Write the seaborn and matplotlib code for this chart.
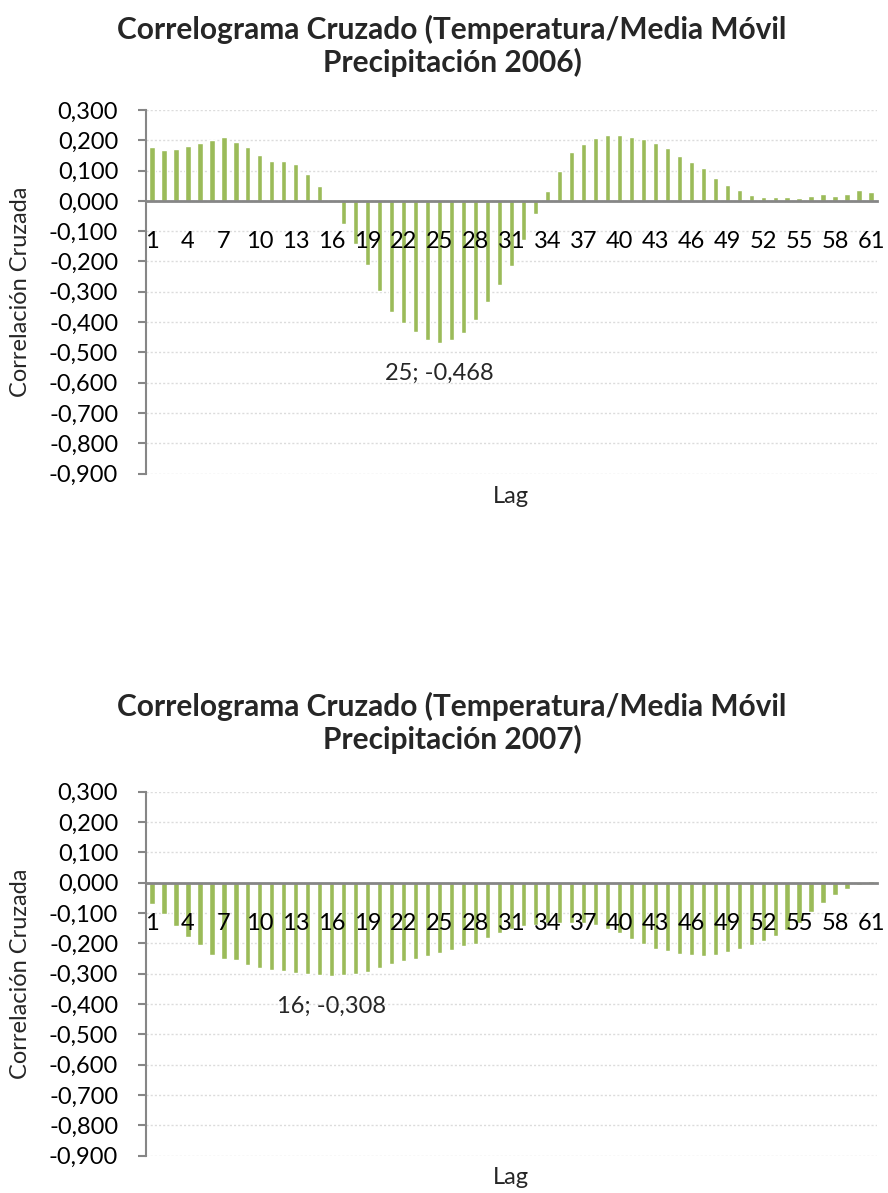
import matplotlib
matplotlib.use("Agg")
import matplotlib.pyplot as plt
import seaborn as sns
import numpy as np
import pandas as pd
from matplotlib.ticker import FuncFormatter

lags = list(range(1, 62))

corr_2006 = [0.177, 0.167, 0.170, 0.180, 0.190, 0.200, 0.210, 0.193, 0.177, 0.153,
             0.133, 0.130, 0.123, 0.090, 0.050, 0.000, -0.076, -0.142, -0.212, -0.299,
             -0.366, -0.402, -0.432, -0.460, -0.468, -0.460, -0.437, -0.394, -0.334, -0.277,
             -0.214, -0.128, -0.042, 0.033, 0.100, 0.160, 0.187, 0.207, 0.217, 0.217,
             0.210, 0.203, 0.190, 0.173, 0.147, 0.127, 0.107, 0.077, 0.053, 0.037,
             0.020, 0.013, 0.013, 0.013, 0.010, 0.017, 0.023, 0.017, 0.023, 0.037,
             0.030]

corr_2007 = [-0.071, -0.104, -0.142, -0.178, -0.204, -0.237, -0.251, -0.254, -0.270, -0.280,
             -0.287, -0.290, -0.297, -0.300, -0.303, -0.308, -0.303, -0.300, -0.293, -0.280,
             -0.268, -0.257, -0.251, -0.240, -0.231, -0.221, -0.208, -0.201, -0.181, -0.165,
             -0.152, -0.142, -0.138, -0.132, -0.132, -0.132, -0.132, -0.138, -0.152, -0.165,
             -0.184, -0.201, -0.218, -0.224, -0.234, -0.237, -0.241, -0.237, -0.227, -0.218,
             -0.204, -0.191, -0.175, -0.155, -0.132, -0.096, -0.066, -0.040, -0.020, -0.007,
             0.004]

titles = ["Correlograma Cruzado (Temperatura/Media Móvil\nPrecipitación 2006)",
          "Correlograma Cruzado (Temperatura/Media Móvil\nPrecipitación 2007)"]
y_ticks = [0.3, 0.2, 0.1, 0.0, -0.1, -0.2, -0.3, -0.4, -0.5, -0.6, -0.7, -0.8, -0.9]
x_tick_lags = list(range(1, 62, 3))
min_labels = [(25, -0.468), (16, -0.308)]

sns.set_theme(style="white")
plt.rcParams['font.family'] = ['Lato', 'DejaVu Sans']

BAR = "#9BBB59"
AX_GRAY = "#868686"
FS = 17

fig = plt.figure(figsize=(8.88, 11.93), dpi=100)

axes_rects = [[146/888, 1 - 473.5/1193, 731/888, 363.5/1193],
              [146/888, 1 - 1155.7/1193, 731/888, 364/1193]]
title_y = [46/1193, 723/1193]
lag_y = [497/1193, 1177/1193]

def fmt(v, pos=None):
    s = f"{v:.3f}".replace(".", ",")
    if s == "-0,000":
        s = "0,000"
    return s

for i, (vals, title, rect) in enumerate(zip([corr_2006, corr_2007], titles, axes_rects)):
    ax = fig.add_axes(rect)
    df = pd.DataFrame({"Lag": lags, "Corr": vals})
    sns.barplot(data=df, x="Lag", y="Corr", color=BAR, saturation=1, width=0.44,
                ax=ax, zorder=3)
    ax.set_xlim(-0.5, 60.5)
    ax.set_ylim(-0.9, 0.3)
    ax.set_yticks(y_ticks)
    ax.yaxis.set_major_formatter(FuncFormatter(fmt))
    ax.grid(axis="y", color="#dcdcdc", linestyle=(0, (1.5, 1.5)), linewidth=1)
    for s in ["top", "right"]:
        ax.spines[s].set_visible(False)
    ax.spines["left"].set_color(AX_GRAY)
    ax.spines["left"].set_linewidth(1.5)
    ax.spines["bottom"].set_position(("data", 0))
    ax.spines["bottom"].set_color(AX_GRAY)
    ax.spines["bottom"].set_linewidth(2)
    ax.spines["bottom"].set_zorder(4)
    ax.set_xticks([l - 1 for l in x_tick_lags])
    ax.set_xticklabels([str(l) for l in x_tick_lags])
    ax.tick_params(axis="x", length=0, pad=22, labelsize=FS, labelcolor="black")
    ax.tick_params(axis="y", left=True, length=6, width=1.5, color=AX_GRAY,
                   direction="out", labelsize=FS, pad=14, labelcolor="black")
    ax.xaxis.set_zorder(5)
    ax.set_xlabel("")
    ax.set_ylabel("Correlación Cruzada", fontsize=FS, labelpad=13)
    lag_lab, lag_val = min_labels[i]
    ax.annotate(f"{lag_lab}; {fmt(lag_val)}", xy=(lag_lab - 1, lag_val),
                xytext=(0, -22), textcoords="offset points",
                ha="center", va="center", fontsize=FS)
    fig.text(511/888, 1 - lag_y[i], "Lag", ha="center", va="center", fontsize=FS)
    fig.text(452/888, 1 - title_y[i], title, ha="center", va="center",
             fontsize=21.5, fontweight="bold", linespacing=1.13)

fig.savefig("out.png", dpi=100)
